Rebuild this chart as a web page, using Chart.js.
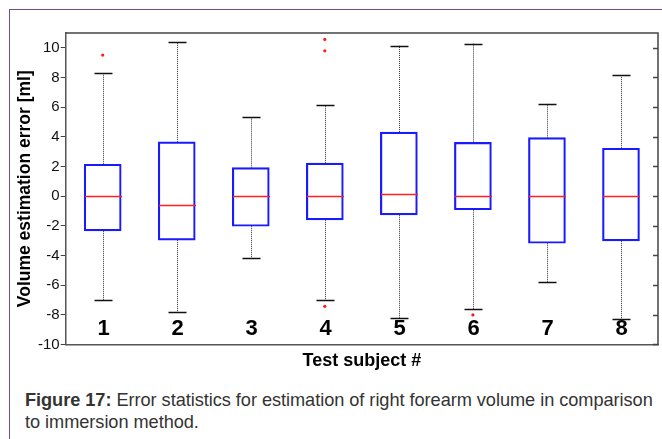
<!DOCTYPE html>
<html>
<head>
<meta charset="utf-8">
<script src="https://cdn.jsdelivr.net/npm/chart.js@4/dist/chart.umd.min.js"></script>
<style>
  html, body { margin: 0; padding: 0; background: #fff; }
  body { width: 662px; height: 439px; position: relative; overflow: hidden; }
  .frame {
    position: absolute; left: 9px; top: 9px; right: -5px; bottom: -5px;
    border-left: 1.5px solid #6b4f9e; border-top: 1.5px solid #6b4f9e;
  }
  .plot { position: absolute; left: 0; top: 0; width: 662px; height: 372px; }
  .caption {
    position: absolute; left: 25px; top: 389px; width: 637px;
    font-family: "Liberation Sans", Arial, sans-serif; font-size: 18.2px;
    line-height: 22px; color: #333; white-space: nowrap; letter-spacing: -0.05px;
  }
  .caption b { font-weight: bold; }
</style>
</head>
<body>
<div class="frame"></div>
<div class="plot"><canvas id="chart"></canvas></div>
<div class="caption"><b>Figure 17:</b> Error statistics for estimation of right forearm volume in comparison<br>to immersion method.</div>
<script>
'use strict';

let canvasElem = document.getElementById('chart');

// test subjects and their box statistics (ml)
const subjects = ['1', '2', '3', '4', '5', '6', '7', '8'];
const lowerWhisker = [-7.02, -7.79, -4.20, -7.02, -8.24, -7.63, -5.80, -8.29];
const lowerQuartile = [-2.34, -2.97, -2.03, -1.60, -1.26, -0.92, -3.18, -3.02];
const medians = [0.00, -0.60, 0.00, 0.00, 0.14, 0.00, 0.00, 0.03];
const upperQuartile = [2.15, 3.66, 1.92, 2.22, 4.32, 3.62, 3.94, 3.23];
const upperWhisker = [8.27, 10.39, 5.33, 6.12, 10.14, 10.28, 6.24, 8.16];
const outliers = [
    { x: '1', y: 9.51 },
    { x: '4', y: 10.57 },
    { x: '4', y: 9.80 },
    { x: '4', y: -7.43 },
    { x: '6', y: -8.01 },
];
const yTicks = [-10, -8, -6, -4, -2, 0, 2, 4, 6, 8, 10];

// whiskers, medians, frame and the subject numbers inside the axes
const boxExtras = {
    id: 'boxExtras',
    afterDatasetsDraw(chart) {
        const ctx = chart.ctx;
        const x = chart.scales.x;
        const y = chart.scales.y;
        const area = chart.chartArea;
        ctx.save();
        for (let i = 0; i < subjects.length; i++) {
            const cx = Math.round(x.getPixelForValue(i)) + 0.5;
            // dotted whisker stems
            ctx.strokeStyle = '#333';
            ctx.lineWidth = 1;
            ctx.setLineDash([1, 1]);
            ctx.beginPath();
            ctx.moveTo(cx, y.getPixelForValue(upperQuartile[i]));
            ctx.lineTo(cx, y.getPixelForValue(upperWhisker[i]));
            ctx.moveTo(cx, y.getPixelForValue(lowerQuartile[i]));
            ctx.lineTo(cx, y.getPixelForValue(lowerWhisker[i]));
            ctx.stroke();
            ctx.setLineDash([]);
            // caps
            ctx.strokeStyle = '#111';
            ctx.lineWidth = 1.3;
            ctx.beginPath();
            for (const v of [upperWhisker[i], lowerWhisker[i]]) {
                const py = Math.round(y.getPixelForValue(v)) + 0.5;
                ctx.moveTo(cx - 9, py);
                ctx.lineTo(cx + 9, py);
            }
            ctx.stroke();
            // median
            ctx.strokeStyle = '#ff2020';
            ctx.lineWidth = 1.3;
            const my = Math.round(y.getPixelForValue(medians[i])) + 0.5;
            ctx.beginPath();
            ctx.moveTo(cx - 18.5, my);
            ctx.lineTo(cx + 18.5, my);
            ctx.stroke();
            // subject number
            ctx.fillStyle = '#000';
            ctx.font = 'bold 22px "Liberation Sans", Arial, sans-serif';
            ctx.textAlign = 'center';
            ctx.textBaseline = 'middle';
            ctx.fillText(subjects[i], cx, y.getPixelForValue(-8.95));
        }
        // top and right edges with inward ticks
        ctx.strokeStyle = '#444';
        ctx.lineWidth = 1.5;
        ctx.beginPath();
        ctx.moveTo(area.left, area.top);
        ctx.lineTo(area.right, area.top);
        ctx.lineTo(area.right, area.bottom);
        for (const t of yTicks) {
            const py = Math.round(y.getPixelForValue(t)) + 0.5;
            ctx.moveTo(area.right, py);
            ctx.lineTo(area.right - 5, py);
        }
        ctx.stroke();
        ctx.restore();
    }
};

function renderChart() {
    const chartConfig = {
        type: 'bar',
        data: {
            labels: subjects,
            datasets: [{
                label: 'Interquartile range',
                data: subjects.map((s, i) => [lowerQuartile[i], upperQuartile[i]]),
                backgroundColor: 'rgba(0,0,0,0)',
                borderColor: '#1a1aff',
                borderWidth: 1.5,
                borderSkipped: false,
                barThickness: 37,
            },
            {
                type: 'line',
                label: 'Outliers',
                data: outliers,
                showLine: false,
                pointRadius: 1.6,
                pointBorderWidth: 0,
                pointBackgroundColor: '#ff1a1a',
            }]
        },
        options: {
            responsive: true,
            maintainAspectRatio: false,
            animation: false,
            layout: { padding: { top: 33, right: 0, left: 15, bottom: 0 } },
            plugins: {
                legend: { display: false },
                tooltip: { enabled: false },
            },
            scales: {
                x: {
                    grid: { display: false, drawTicks: false },
                    border: { color: '#555', width: 1.5 },
                    ticks: { display: false },
                    title: {
                        display: true,
                        text: 'Test subject #',
                        color: '#000',
                        font: { family: '"Liberation Sans", Arial, sans-serif', size: 18, weight: 'bold' },
                        padding: { top: 6, bottom: 0 },
                    }
                },
                y: {
                    min: -10,
                    max: 11,
                    afterBuildTicks: (axis) => { axis.ticks = yTicks.map(v => ({ value: v })); },
                    grid: { drawOnChartArea: false, drawTicks: true, tickLength: 5, color: '#444' },
                    border: { color: '#555', width: 1.5 },
                    ticks: {
                        color: '#111',
                        padding: 1,
                        font: { family: '"Liberation Sans", Arial, sans-serif', size: 15 },
                    },
                    title: {
                        display: true,
                        text: 'Volume estimation error [ml]',
                        color: '#000',
                        font: { family: '"Liberation Sans", Arial, sans-serif', size: 17.5, weight: 'bold' },
                        padding: { top: 0, bottom: 1 },
                    }
                },
            }
        },
        plugins: [boxExtras],
    };
    new Chart(canvasElem, chartConfig);
}

renderChart();
</script>
</body>
</html>
